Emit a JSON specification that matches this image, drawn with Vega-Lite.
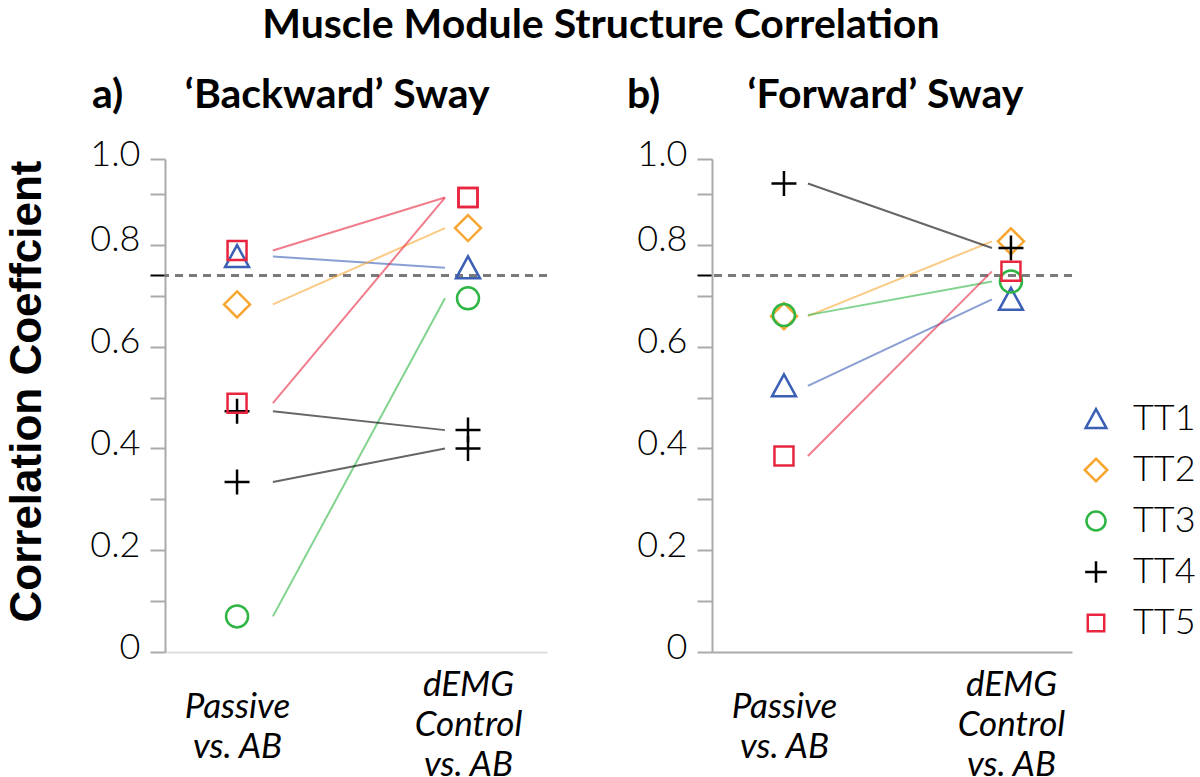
{
  "$schema": "https://vega.github.io/schema/vega-lite/v6.json",
  "padding": {"left": 5, "top": 5, "right": 5, "bottom": 0},
  "background": "white",
  "title": {"text": "Muscle Module Structure Correlation", "font": "Lato", "fontSize": 41, "fontWeight": "bold", "color": "black", "anchor": "middle", "offset": 28},
  "datasets": {
    "pts": [
      {"panel": "a", "subject": "TT1", "pair": "TT1", "cond": "Passive vs. AB", "r": 0.777},
      {"panel": "a", "subject": "TT1", "pair": "TT1", "cond": "dEMG Control vs. AB", "r": 0.755},
      {"panel": "a", "subject": "TT2", "pair": "TT2", "cond": "Passive vs. AB", "r": 0.683},
      {"panel": "a", "subject": "TT2", "pair": "TT2", "cond": "dEMG Control vs. AB", "r": 0.833},
      {"panel": "a", "subject": "TT3", "pair": "TT3", "cond": "Passive vs. AB", "r": 0.07},
      {"panel": "a", "subject": "TT3", "pair": "TT3", "cond": "dEMG Control vs. AB", "r": 0.695},
      {"panel": "a", "subject": "TT4", "pair": "TT4-1", "cond": "Passive vs. AB", "r": 0.473},
      {"panel": "a", "subject": "TT4", "pair": "TT4-1", "cond": "dEMG Control vs. AB", "r": 0.436},
      {"panel": "a", "subject": "TT4", "pair": "TT4-2", "cond": "Passive vs. AB", "r": 0.334},
      {"panel": "a", "subject": "TT4", "pair": "TT4-2", "cond": "dEMG Control vs. AB", "r": 0.4},
      {"panel": "a", "subject": "TT5", "pair": "TT5-1", "cond": "Passive vs. AB", "r": 0.789},
      {"panel": "a", "subject": "TT5", "pair": "TT5-1", "cond": "dEMG Control vs. AB", "r": 0.893},
      {"panel": "a", "subject": "TT5", "pair": "TT5-2", "cond": "Passive vs. AB", "r": 0.489},
      {"panel": "a", "subject": "TT5", "pair": "TT5-2", "cond": "dEMG Control vs. AB", "r": 0.893},
      {"panel": "b", "subject": "TT1", "pair": "TT1", "cond": "Passive vs. AB", "r": 0.523},
      {"panel": "b", "subject": "TT1", "pair": "TT1", "cond": "dEMG Control vs. AB", "r": 0.693},
      {"panel": "b", "subject": "TT2", "pair": "TT2", "cond": "Passive vs. AB", "r": 0.66},
      {"panel": "b", "subject": "TT2", "pair": "TT2", "cond": "dEMG Control vs. AB", "r": 0.807},
      {"panel": "b", "subject": "TT3", "pair": "TT3", "cond": "Passive vs. AB", "r": 0.662},
      {"panel": "b", "subject": "TT3", "pair": "TT3", "cond": "dEMG Control vs. AB", "r": 0.728},
      {"panel": "b", "subject": "TT4", "pair": "TT4", "cond": "Passive vs. AB", "r": 0.93},
      {"panel": "b", "subject": "TT4", "pair": "TT4", "cond": "dEMG Control vs. AB", "r": 0.794},
      {"panel": "b", "subject": "TT5", "pair": "TT5", "cond": "Passive vs. AB", "r": 0.385},
      {"panel": "b", "subject": "TT5", "pair": "TT5", "cond": "dEMG Control vs. AB", "r": 0.748}
    ]
  },
  "config": {
    "view": {"stroke": null},
    "axisY": {"labelFont": "Lato", "labelFontSize": 36, "labelFontWeight": 300, "labelColor": "black", "tickSize": 15, "tickColor": "#aaaaaa", "tickWidth": 2, "domainColor": "#aaaaaa", "domainWidth": 2, "labelPadding": 10, "grid": false, "labelOffset": -5},
    "axisX": {"labelFont": "Lato", "labelFontSize": 35, "labelFontStyle": "italic", "labelColor": "black", "ticks": false, "labelBaseline": "middle", "labelLineHeight": 40, "grid": false, "domainWidth": 2, "labelAngle": 0,
      "labelPadding": {"condition": {"test": "datum.value == 'Passive vs. AB'", "value": 54}, "value": 32}},
    "title": {"font": "Lato", "color": "black"},
    "legend": {"title": null, "orient": "none", "legendX": 913, "legendY": 242, "labelFont": "Lato", "labelFontSize": 36, "labelFontWeight": 300, "labelColor": "black", "symbolStrokeWidth": 2.5, "symbolSize": 300, "symbolOpacity": 1, "rowPadding": 15, "labelOffset": 19, "padding": 0}
  },
  "spacing": 79,
  "hconcat": [
    {
      "width": 382,
      "height": 493,
      "data": {"name": "pts"},
      "transform": [{"filter": "datum.panel == 'a'"}],
      "title": {"text": "a)\u2003\u2003‘Backward’ Sway", "fontSize": 41, "fontWeight": "bold", "anchor": "start", "frame": "group", "dx": -73, "offset": 19},
      "layer": [
        {
          "mark": {"type": "rule", "strokeDash": [8, 6], "color": "#7a7a7a", "strokeWidth": 2},
          "encoding": {
            "y": {"datum": 0.74, "type": "quantitative", "scale": {"domain": [0, 0.9, 1.0], "range": [493, 35, 0], "nice": false, "zero": false},
              "axis": {"orient": "left", "values": [0.74], "labels": false, "domain": false, "ticks": true, "tickColor": "black", "tickWidth": 2, "title": null}}
          }
        },
        {
          "mark": {"type": "line", "strokeWidth": 2, "opacity": 0.6},
          "encoding": {
            "x": {"field": "cond", "type": "nominal", "sort": ["Passive vs. AB", "dEMG Control vs. AB"], "scale": {"type": "point", "padding": 0.61, "align": 0.514}, "axis": null},
            "y": {"field": "r", "type": "quantitative",
              "axis": {"orient": "left", "values": [0, 0.1, 0.2, 0.3, 0.4, 0.5, 0.6, 0.7, 0.8, 0.9, 1.0], "labelExpr": "round(datum.value*10) % 2 == 1 ? '' : (datum.value == 0 ? '0' : format(datum.value, '.1f'))", "title": "Correlation Coeffcient", "titleFontSize": 44, "titleFontWeight": "bold", "titleColor": "black", "titlePadding": 40, "titleY": 232}},
            "detail": {"field": "pair"},
            "color": {"field": "subject", "type": "nominal", "scale": {"domain": ["TT1", "TT2", "TT3", "TT4", "TT5"], "range": ["#3b5fb5", "#f7a632", "#2fb543", "#000000", "#e8263f"]}}
          }
        },
        {
          "mark": {"type": "point", "filled": false, "strokeWidth": 2.5, "size": 400, "opacity": 1},
          "encoding": {
            "x": {"field": "cond", "type": "nominal", "sort": ["Passive vs. AB", "dEMG Control vs. AB"], "scale": {"type": "point", "padding": 0.327, "align": 0.477},
              "axis": {"title": null, "domainColor": "#dddddd", "labelExpr": "datum.value == 'Passive vs. AB' ? ['Passive', 'vs. AB'] : ['dEMG', 'Control', 'vs. AB']"}},
            "y": {"field": "r", "type": "quantitative", "axis": null},
            "color": {"field": "subject", "type": "nominal"},
            "shape": {"field": "subject", "type": "nominal", "scale": {"domain": ["TT1", "TT2", "TT3", "TT4", "TT5"], "range": ["M0,-1.15L1.2,1.05L-1.2,1.05Z", "M0,-1.3L1.3,0L0,1.3L-1.3,0Z", "M1.1,0A1.1,1.1,0,1,1,-1.1,0A1.1,1.1,0,1,1,1.1,0Z", "M-1.25,0H1.25M0,-1.25V1.25", "M-0.95,-0.95H0.95V0.95H-0.95Z"]}}
          }
        }
      ],
      "resolve": {"scale": {"x": "independent"}, "axis": {"y": "independent"}}
    },
    {
      "width": 360,
      "height": 493,
      "data": {"name": "pts"},
      "transform": [{"filter": "datum.panel == 'b'"}],
      "title": {"text": "b)\u2003\u2003\u2002\u2009‘Forward’ Sway", "fontSize": 41, "fontWeight": "bold", "anchor": "start", "frame": "group", "dx": -85, "offset": 19},
      "layer": [
        {
          "mark": {"type": "rule", "strokeDash": [8, 6], "color": "#7a7a7a", "strokeWidth": 2},
          "encoding": {
            "y": {"datum": 0.74, "type": "quantitative", "scale": {"domain": [0, 0.9, 1.0], "range": [493, 35, 0], "nice": false, "zero": false},
              "axis": {"orient": "left", "values": [0.74], "labels": false, "domain": false, "ticks": true, "tickColor": "black", "tickWidth": 2, "title": null}}
          }
        },
        {
          "mark": {"type": "line", "strokeWidth": 2, "opacity": 0.6},
          "encoding": {
            "x": {"field": "cond", "type": "nominal", "sort": ["Passive vs. AB", "dEMG Control vs. AB"], "scale": {"type": "point", "padding": 0.478, "align": 0.545}, "axis": null},
            "y": {"field": "r", "type": "quantitative",
              "axis": {"orient": "left", "values": [0, 0.1, 0.2, 0.3, 0.4, 0.5, 0.6, 0.7, 0.8, 0.9, 1.0], "labelExpr": "round(datum.value*10) % 2 == 1 ? '' : (datum.value == 0 ? '0' : format(datum.value, '.1f'))", "title": null}},
            "detail": {"field": "pair"},
            "color": {"field": "subject", "type": "nominal"}
          }
        },
        {
          "mark": {"type": "point", "filled": false, "strokeWidth": 2.5, "size": 400, "opacity": 1},
          "encoding": {
            "x": {"field": "cond", "type": "nominal", "sort": ["Passive vs. AB", "dEMG Control vs. AB"], "scale": {"type": "point", "padding": 0.293, "align": 0.541},
              "axis": {"title": null, "domainColor": "#aaaaaa", "labelExpr": "datum.value == 'Passive vs. AB' ? ['Passive', 'vs. AB'] : ['dEMG', 'Control', 'vs. AB']"}},
            "y": {"field": "r", "type": "quantitative", "axis": null},
            "color": {"field": "subject", "type": "nominal"},
            "shape": {"field": "subject", "type": "nominal"}
          }
        }
      ],
      "resolve": {"scale": {"x": "independent"}, "axis": {"y": "independent"}}
    }
  ]
}
